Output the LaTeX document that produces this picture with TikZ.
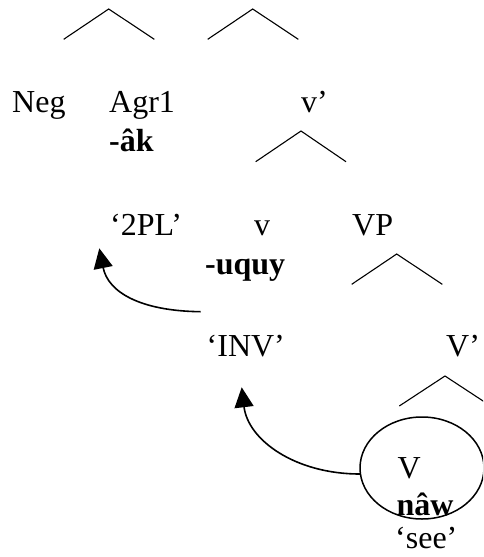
\documentclass[tikz,border=0pt]{standalone}
\usepackage{fontspec}
\setmainfont{Liberation Serif}
\usetikzlibrary{arrows.meta}
\begin{document}
\begin{tikzpicture}[x=1pt,y=-1pt,
  lbl/.style={anchor=base west,inner sep=0pt,font=\fontsize{32}{38}\selectfont},
  morph/.style={lbl,font=\fontsize{32}{38}\selectfont\bfseries},
  branch/.style={line width=1.1pt},
  move/.style={line width=1.6pt,-{Triangle[length=20pt,width=19pt]}}]
\clip (0,0) rectangle (483,557);
\useasboundingbox (0,0) rectangle (483,557);

% branching lines
\draw[branch] (63.7,39.3) -- (108.7,9) -- (154.3,39.3);
\draw[branch] (207.7,39.3) -- (252.7,9) -- (298.3,39.3);
\draw[branch] (255.7,161.7) -- (301,131) -- (346,161.7);
\draw[branch] (351.7,284.3) -- (396.7,254) -- (442.3,284.3);
\draw[branch] (399.3,406) -- (445,376) -- (490.7,406);

% labels
\node[lbl] (neg) at (12,112) {Neg};
\node[lbl] (agr) at (109,112) {Agr1};
\node[lbl] (vbar) at (301,112) {v’};
\node[morph] (ak) at (109,151.7) {-âk};
\node[lbl] (pl) at (110,235) {‘2PL’};
\node[lbl] (v) at (254,235) {v};
\node[lbl] (vp) at (352,235) {VP};
\node[morph] (uquy) at (205,274.3) {-uquy};
\node[lbl] (inv) at (206.5,356.7) {‘INV’};
\node[lbl] (Vbar) at (446,356.7) {V’};

% circled head
\draw[line width=1.5pt] (422,468) ellipse [x radius=62, y radius=51];
\coordinate (head) at (360,474);
\node[lbl] (V) at (397.5,478.3) {V};
\node[morph] (naw) at (396.5,515) {nâw};
\node[lbl] (see) at (395,548.3) {‘see’};

% movement arrows
\coordinate (m1s) at (200.7,311.7);
\coordinate (m1e) at (99.3,248.3);
\draw[move] (m1s) .. controls (140,311) and (108,292) .. (m1e);
\coordinate (m2e) at (241.7,387.3);
\draw[move] (head) .. controls (295,474) and (248,440) .. (m2e);
\end{tikzpicture}
\end{document}
